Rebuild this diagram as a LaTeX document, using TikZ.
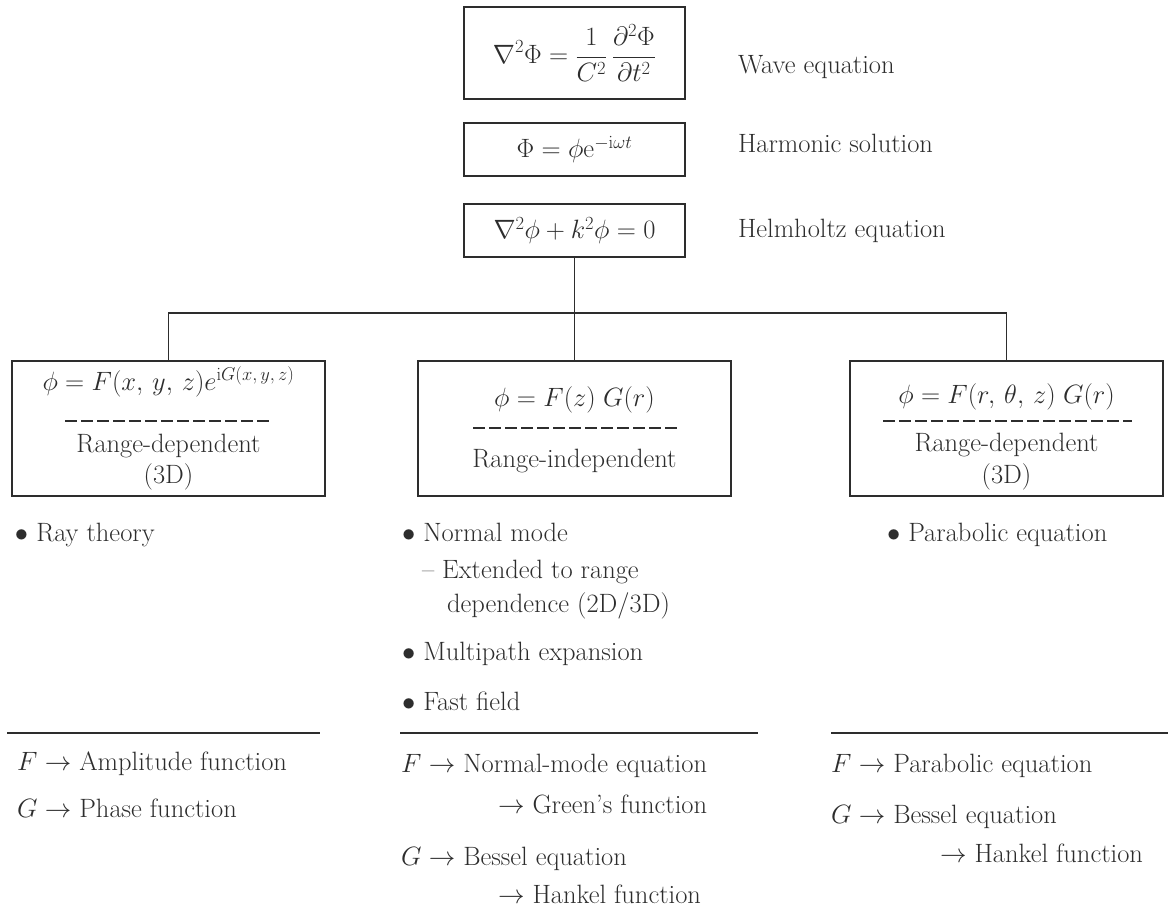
\RequirePackage{fix-cm}
\documentclass[tikz,border=0pt]{standalone}
\usepackage{amsmath}
\definecolor{ink}{RGB}{45,45,45}
\begin{document}
\begin{tikzpicture}[x=1pt,y=-1pt,
  every node/.style={font=\fontsize{26.5}{32}\selectfont, text=ink},
  topbox/.style={draw=ink, line width=1.6pt, minimum width=221pt, inner sep=0pt, outer sep=0pt},
  lowbox/.style={draw=ink, line width=1.6pt, minimum width=313pt, minimum height=135pt, inner sep=0pt, outer sep=0pt},
  txt/.style={inner sep=0pt, outer sep=0pt, anchor=base west},
  ctxt/.style={inner sep=0pt, outer sep=0pt, anchor=base},
  link/.style={draw=ink, line width=1.4pt},
  dashsep/.style={draw=ink, line width=2.4pt, dash pattern=on 12pt off 4pt},
  hrule/.style={draw=ink, line width=1.4pt}]
\useasboundingbox (0,0) rectangle (1168,911);

% top boxes
\node[topbox, minimum height=92pt] (wave) at (574.5,53) {$\displaystyle \nabla^2\Phi = \frac{1}{C^2}\,\frac{\partial^2\Phi}{\partial t^2}$};
\node[topbox, minimum height=53pt] (harm) at (574.5,149.5) {$\Phi = \phi\mathrm{e}^{-\mathrm{i}\omega t}$};
\node[topbox, minimum height=53pt] (helm) at (574.5,230.5) {$\nabla^2\phi + k^2\phi = 0$};

\node[txt] (lwave) at (738,73) {Wave equation};
\node[txt] (lharm) at (738,152) {Harmonic solution};
\node[txt] (lhelm) at (738,237) {Helmholtz equation};

% lower boxes
\node[lowbox] (L) at (168.5,428.5) {};
\node[lowbox] (M) at (574.5,428.5) {};
\node[lowbox] (R) at (1006.5,428.5) {};

% connectors
\coordinate (branch) at (574.5,313);
\draw[link] (helm.south) -- (M.north);
\draw[link] (L.north) |- (branch) -| (R.north);

% left box content
\node[ctxt] (Lf) at (168.5,390) {$\phi = F(x,\,y,\,z)e^{\mathrm{i}G(x,\,y,\,z)}$};
\coordinate (Lda) at (65,421);
\coordinate (Ldb) at (272,421);
\draw[dashsep] (Lda) -- (Ldb);
\node[ctxt] (Lt1) at (168.5,452) {Range-dependent};
\node[ctxt] (Lt2) at (168.5,483) {(3D)};

% middle box content
\node[ctxt] (Mf) at (574.5,406) {$\phi = F(z)\;G(r)$};
\coordinate (Mda) at (473,428);
\coordinate (Mdb) at (680,428);
\draw[dashsep] (Mda) -- (Mdb);
\node[ctxt] (Mt1) at (574.5,467) {Range-independent};

% right box content
\node[ctxt] (Rf) at (1006.5,403) {$\phi = F(r,\,\theta,\,z)\;G(r)$};
\coordinate (Rda) at (883,421);
\coordinate (Rdb) at (1132,421);
\draw[dashsep] (Rda) -- (Rdb);
\node[ctxt] (Rt1) at (1006.5,451) {Range-dependent};
\node[ctxt] (Rt2) at (1006.5,483) {(3D)};

% bullets
\node[txt] (b1) at (15,541) {$\bullet$ Ray theory};
\node[txt] (b2) at (402,541) {$\bullet$ Normal mode};
\node[txt] (b3) at (422,578) {-- Extended to range};
\node[txt] (b4) at (447,612) {dependence (2D/3D)};
\node[txt] (b5) at (402,660) {$\bullet$ Multipath expansion};
\node[txt] (b6) at (402,710) {$\bullet$ Fast field};
\node[txt] (b7) at (887,541) {$\bullet$ Parabolic equation};

% rules
\coordinate (r1a) at (7,733);   \coordinate (r1b) at (320,733);
\coordinate (r2a) at (400,733); \coordinate (r2b) at (758,733);
\coordinate (r3a) at (831,733); \coordinate (r3b) at (1168,733);
\draw[hrule] (r1a) -- (r1b);
\draw[hrule] (r2a) -- (r2b);
\draw[hrule] (r3a) -- (r3b);

% bottom texts
\node[txt] (f1) at (17,770) {$F\rightarrow$ Amplitude function};
\node[txt] (g1) at (17,817) {$G\rightarrow$ Phase function};
\node[txt] (f2) at (401,772) {$F\rightarrow$ Normal-mode equation};
\node[txt] (f2b) at (498,813) {$\rightarrow$ Green's function};
\node[txt] (g2) at (401,865) {$G\rightarrow$ Bessel equation};
\node[txt] (g2b) at (498,903) {$\rightarrow$ Hankel function};
\node[txt] (f3) at (831,772) {$F\rightarrow$ Parabolic equation};
\node[txt] (g3) at (831,823) {$G\rightarrow$ Bessel equation};
\node[txt] (g3b) at (940,862) {$\rightarrow$ Hankel function};
\end{tikzpicture}
\end{document}
